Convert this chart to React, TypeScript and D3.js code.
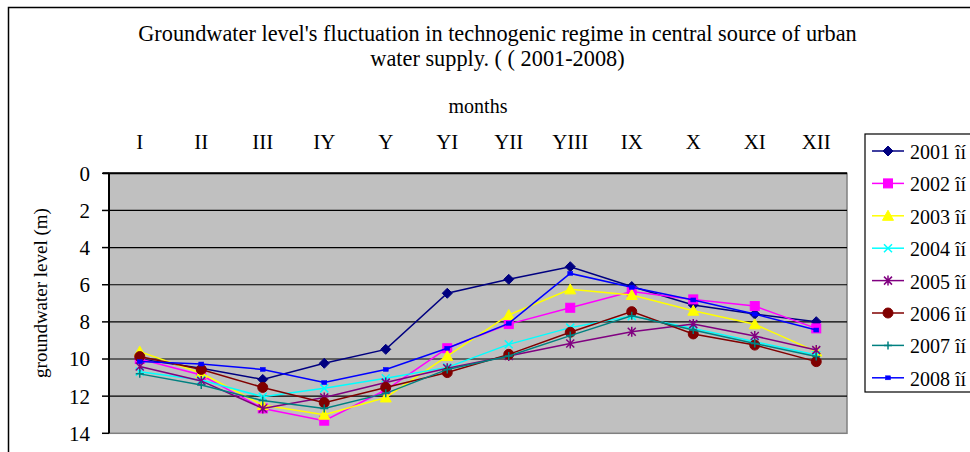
import React from "react";
import * as d3 from "d3";

const months = ["I", "II", "III", "IY", "Y", "YI", "YII", "YIII", "IX", "X", "XI", "XII"];
const yTicks = [0, 2, 4, 6, 8, 10, 12, 14];
const seriesNames = ["2001 îí", "2002 îí", "2003 îí", "2004 îí", "2005 îí", "2006 îí", "2007 îí", "2008 îí"];

const s2001 = [10.0, 10.5, 11.1, 10.23, 9.48, 6.46, 5.71, 5.03, 6.1, 7.09, 7.58, 7.99];
const s2002 = [10.0, 10.86, 12.66, 13.32, 11.67, 9.42, 8.12, 7.24, 6.37, 6.79, 7.15, 8.35];
const s2003 = [9.6, 10.77, 12.48, 13.0, 12.07, 9.84, 7.63, 6.25, 6.55, 7.4, 8.13, 9.6];
const s2004 = [10.68, 11.13, 12.03, 11.58, 11.04, 10.45, 9.21, 8.31, 7.69, 8.35, 9.07, 9.78];
const s2005 = [10.4, 11.18, 12.66, 12.07, 11.27, 10.5, 9.84, 9.16, 8.53, 8.12, 8.76, 9.52];
const s2006 = [9.87, 10.56, 11.53, 12.35, 11.53, 10.73, 9.75, 8.56, 7.45, 8.65, 9.25, 10.14];
const s2007 = [10.8, 11.4, 12.24, 12.66, 11.85, 10.56, 9.84, 8.74, 7.67, 8.44, 9.16, 9.87];
const s2008 = [10.14, 10.27, 10.56, 11.27, 10.56, 9.42, 8.08, 5.39, 6.14, 6.82, 7.58, 8.44];

const seriesValues = [s2001, s2002, s2003, s2004, s2005, s2006, s2007, s2008];
const colors = ["#000080", "#FF00FF", "#FFFF00", "#00FFFF", "#800080", "#800000", "#008080", "#0000FF"];
const markerKinds = ["diamond", "square", "triangle", "x", "asterisk", "circle", "plus", "smallsquare"];

function Marker({ kind, x, y, color }: { kind: string; x: number; y: number; color: string }) {
  switch (kind) {
    case "diamond":
      return <path d={`M${x},${y - 5}L${x + 5},${y}L${x},${y + 5}L${x - 5},${y}Z`} fill={color} stroke={color} strokeWidth={1} />;
    case "square":
      return <rect x={x - 4.5} y={y - 4.5} width={9} height={9} fill={color} stroke={color} strokeWidth={1} />;
    case "triangle":
      return <path d={`M${x},${y - 5.5}L${x + 5.5},${y + 4.5}L${x - 5.5},${y + 4.5}Z`} fill={color} stroke={color} strokeWidth={1} />;
    case "x":
      return <path d={`M${x - 4},${y - 4}L${x + 4},${y + 4}M${x - 4},${y + 4}L${x + 4},${y - 4}`} stroke={color} strokeWidth={1.5} fill="none" />;
    case "asterisk":
      return <path d={`M${x - 4},${y - 4}L${x + 4},${y + 4}M${x - 4},${y + 4}L${x + 4},${y - 4}M${x},${y - 5}L${x},${y + 5}`} stroke={color} strokeWidth={1.5} fill="none" />;
    case "circle":
      return <circle cx={x} cy={y} r={5} fill={color} stroke={color} strokeWidth={1} />;
    case "plus":
      return <path d={`M${x - 4},${y}L${x + 4},${y}M${x},${y - 4}L${x},${y + 4}`} stroke={color} strokeWidth={1.5} fill="none" />;
    case "smallsquare":
      return <rect x={x - 2.5} y={y - 2} width={5} height={4} fill={color} stroke={color} strokeWidth={0.5} />;
    default:
      return null;
  }
}

export default function App() {
  const W = 970, H = 452;
  const plotL = 109, plotR = 847, plotT = 173.3, plotB = 433.3;
  const x = d3.scaleBand<string>().domain(months).range([plotL, plotR]);
  const y = d3.scaleLinear().domain([0, 14]).range([plotT, plotB]);
  const cx = (m: string) => (x(m) as number) + x.bandwidth() / 2;
  const line = d3.line<number>().x((_, i) => cx(months[i])).y((d) => y(d));
  const font = "'Liberation Serif', 'Times New Roman', serif";

  const legX = 865, legY = 134, legStep = 32.4, legFirst = 151;

  return (
    <svg width={W} height={H} style={{ position: "absolute", left: 0, top: 0, background: "#fff" }} fontFamily={font}>
      {/* outer chart frame */}
      <path d={`M8.5,${H + 5}L8.5,7.5L${W + 5},7.5`} stroke="#000" strokeWidth={1.5} fill="none" />

      {/* title */}
      <text x={497.5} y={41} textAnchor="middle" fontSize={22.3} fill="#000">
        Groundwater  level's fluctuation in technogenic regime in central source of urban
      </text>
      <text x={497.5} y={66} textAnchor="middle" fontSize={22.3} fill="#000">water supply. ( ( 2001-2008)</text>
      <text x={478} y={112.7} textAnchor="middle" fontSize={20} fill="#000">months</text>

      {/* plot area */}
      <rect x={plotL} y={plotT} width={plotR - plotL} height={plotB - plotT} fill="#C0C0C0" stroke="#808080" strokeWidth={1.5} />
      {yTicks.filter((t) => t > 0 && t < 14).map((t) => (
        <line key={t} x1={plotL} x2={plotR} y1={y(t)} y2={y(t)} stroke="#000" strokeWidth={1.2} />
      ))}
      {/* category axis on top */}
      <line x1={plotL - 6} x2={plotR} y1={y(0)} y2={y(0)} stroke="#000" strokeWidth={2} />
      {/* value axis */}
      <line x1={plotL} x2={plotL} y1={plotT} y2={plotB} stroke="#000" strokeWidth={2} />
      {yTicks.map((t) => (
        <g key={t}>
          <line x1={plotL - 7} x2={plotL} y1={y(t)} y2={y(t)} stroke="#000" strokeWidth={1.5} />
          <text x={90} y={y(t)} dy="0.35em" textAnchor="end" fontSize={21} fill="#000">{t}</text>
        </g>
      ))}
      {months.map((m) => (
        <text key={m} x={cx(m)} y={149} textAnchor="middle" fontSize={21} fill="#000">{m}</text>
      ))}
      <text transform={`translate(47,293) rotate(-90)`} textAnchor="middle" fontSize={19} fill="#000">
        groundwater level (m)
      </text>

      {/* series */}
      {seriesValues.map((vals, si) => (
        <g key={si}>
          <path d={line(vals) as string} fill="none" stroke={colors[si]} strokeWidth={1.5} />
          {vals.map((v, i) => (
            <Marker key={i} kind={markerKinds[si]} x={cx(months[i])} y={y(v)} color={colors[si]} />
          ))}
        </g>
      ))}

      {/* legend */}
      <rect x={legX} y={legY} width={140} height={392 - legY} fill="#fff" stroke="#000" strokeWidth={1.2} />
      {seriesNames.map((n, i) => {
        const ly = legFirst + i * legStep;
        return (
          <g key={n}>
            <line x1={872} x2={904} y1={ly} y2={ly} stroke={colors[i]} strokeWidth={1.5} />
            <Marker kind={markerKinds[i]} x={888} y={ly} color={colors[i]} />
            <text x={910} y={ly + 8} fontSize={20} fill="#000">{n}</text>
          </g>
        );
      })}
    </svg>
  );
}
